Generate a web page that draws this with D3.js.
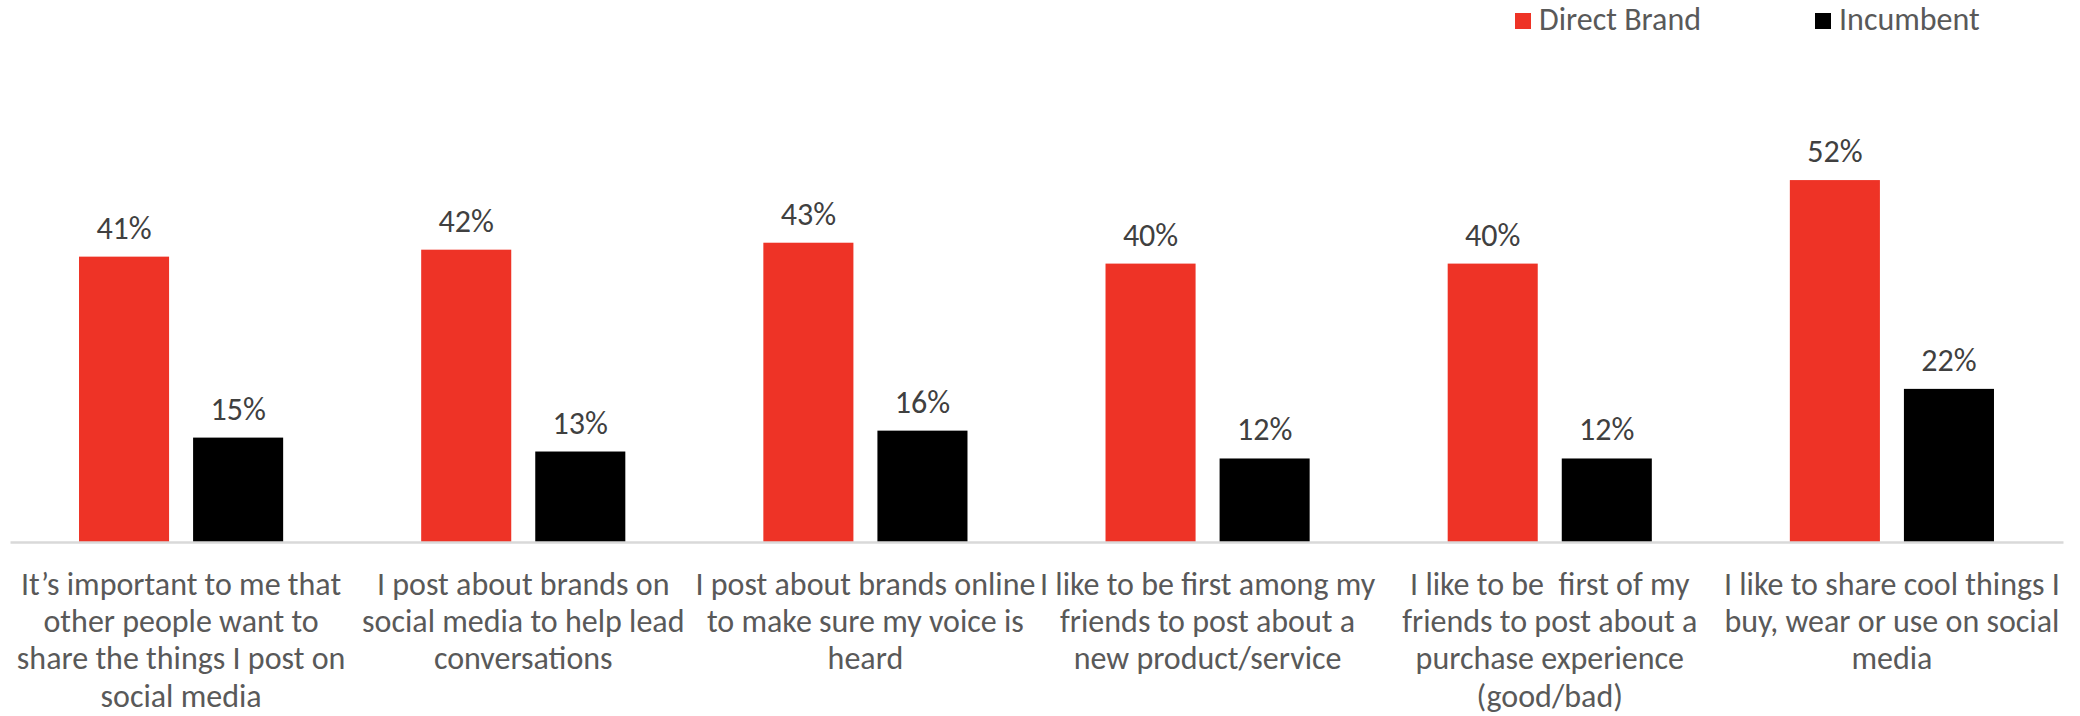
<!DOCTYPE html>
<html>
<head>
<meta charset="utf-8">
<script src="https://cdn.jsdelivr.net/npm/d3@7"></script>
<style>
  html, body { margin: 0; padding: 0; background: #fff; }
  svg text { font-family: Carlito, "Liberation Sans Narrow", "Open Sans", sans-serif; white-space: pre; }
</style>
</head>
<body>
<svg id="chart" width="2080" height="716"></svg>
<script>
// Survey statements (one entry per wrapped line)
const categoryLines = [
  ["It\u2019s important to me that", "other people want to", "share the things I post on", "social media"],
  ["I post about brands on", "social media to help lead", "conversations"],
  ["I post about brands online", "to make sure my voice is", "heard"],
  ["I like to be first among my", "friends to post about a", "new product/service"],
  ["I like to be  first of my", "friends to post about a", "purchase experience", "(good/bad)"],
  ["I like to share cool things I", "buy, wear or use on social", "media"]
];
const seriesNames = ["Direct Brand", "Incumbent"];
const directBrand = [41, 42, 43, 40, 40, 52];
const incumbent = [15, 13, 16, 12, 12, 22];
const seriesColors = ["#EE3326", "#000000"];

const categories = categoryLines.map((d, i) => "c" + i);
const rows = categories.map((c, i) => ({ cat: c, values: [directBrand[i], incumbent[i]] }));

const svg = d3.select("#chart");

const x0 = d3.scaleBand().domain(categories).range([10, 2063]).paddingInner(0).paddingOuter(0);
const x1 = d3.scaleBand().domain(seriesNames).range([0, x0.bandwidth()])
  .paddingInner(0.2105).paddingOuter(0.605);
const y = d3.scaleLinear().domain([0, 60]).range([542, 124.4]);
const color = d3.scaleOrdinal().domain(seriesNames).range(seriesColors);

// Bars
const groups = svg.append("g").selectAll("g").data(rows).join("g")
  .attr("transform", d => `translate(${x0(d.cat)},0)`);

groups.selectAll("rect")
  .data(d => d.values.map((v, k) => ({ name: seriesNames[k], value: v })))
  .join("rect")
  .attr("x", d => x1(d.name))
  .attr("width", x1.bandwidth())
  .attr("y", d => y(d.value))
  .attr("height", d => y(0) - y(d.value))
  .attr("fill", d => color(d.name));

// Value labels
groups.selectAll("text.val")
  .data(d => d.values.map((v, k) => ({ name: seriesNames[k], value: v })))
  .join("text")
  .attr("class", "val")
  .attr("x", d => x1(d.name) + x1.bandwidth() / 2)
  .attr("y", d => y(d.value) - 18)
  .attr("text-anchor", "middle")
  .attr("font-size", 32)
  .attr("fill", "#404040")
  .text(d => d.value + "%");

// Category axis
const axis = svg.append("g").attr("transform", `translate(0,${y(0)})`)
  .call(d3.axisBottom(x0).tickSize(0).tickFormat(""));
axis.select(".domain").attr("stroke", "#D9D9D9").attr("stroke-width", 2.5);

const labels = svg.append("g").selectAll("text").data(categoryLines).join("text")
  .attr("text-anchor", "middle")
  .attr("font-size", 32)
  .attr("fill", "#595959")
  .attr("transform", (d, i) => `translate(${x0(categories[i]) + x0.bandwidth() / 2},595)`);
labels.selectAll("tspan").data(d => d).join("tspan")
  .attr("x", 0)
  .attr("dy", (d, j) => j === 0 ? 0 : 37.2)
  .text(d => d);

// Legend
const legendX = [1515, 1815];
const legend = svg.append("g").selectAll("g").data(seriesNames).join("g")
  .attr("transform", (d, i) => `translate(${legendX[i]},13)`);
legend.append("rect").attr("width", 16).attr("height", 16).attr("fill", d => color(d));
legend.append("text").attr("x", 24).attr("y", 17).attr("font-size", 32)
  .attr("fill", "#595959").text(d => d);
</script>
</body>
</html>
